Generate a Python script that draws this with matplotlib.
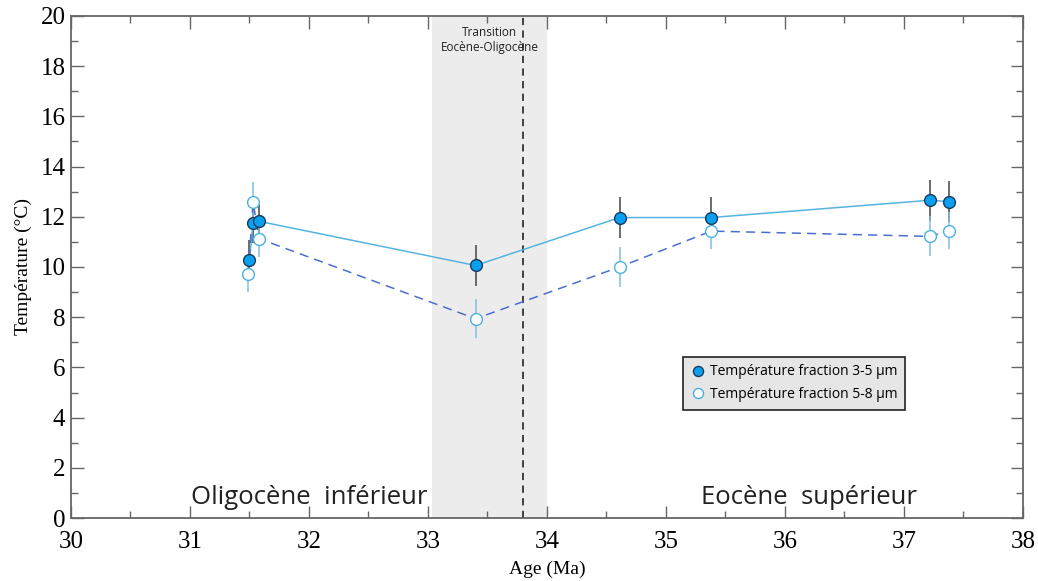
import matplotlib.pyplot as plt
from matplotlib.ticker import MultipleLocator

# Fraction 3-5 µm (filled markers)
age_35 = [31.50, 31.53, 31.58, 33.40, 34.61, 35.38, 37.22, 37.38]
temp_35 = [10.28, 11.75, 11.82, 10.06, 11.97, 11.97, 12.66, 12.60]
err_35 = [0.80, 0.80, 0.80, 0.82, 0.82, 0.82, 0.82, 0.82]

# Fraction 5-8 µm (open markers)
age_58 = [31.49, 31.53, 31.58, 33.40, 34.61, 35.38, 37.22, 37.38]
temp_58 = [9.74, 12.60, 11.13, 7.94, 10.00, 11.43, 11.22, 11.45]
err_58 = [0.75, 0.80, 0.75, 0.78, 0.78, 0.72, 0.80, 0.75]

transition_span = (33.03, 34.0)
boundary_age = 33.8

sans = ["Open Sans", "DejaVu Sans"]
plt.rcParams["font.family"] = ["Liberation Serif", "DejaVu Serif"]

fig = plt.figure(figsize=(10.38, 5.81), dpi=100)
ax = fig.add_axes([0.0684, 0.1084, 0.9171, 0.8641])

ax.axvspan(*transition_span, color="#ececec", zorder=0, lw=0)
ax.axvline(boundary_age, color="#333333", ls=(0, (4, 3)), lw=1.3, zorder=1)

ax.errorbar(age_35, temp_35, yerr=err_35, fmt="none", ecolor="#444444",
            elinewidth=1.1, zorder=2)
ax.errorbar(age_58, temp_58, yerr=err_58, fmt="none", ecolor="#7fc0e0",
            elinewidth=1.1, zorder=2)

ax.plot(age_35, temp_35, color="#55b4e0", lw=1.1, zorder=3)
ax.plot(age_58, temp_58, color="#4a6fd0", lw=1.1, ls=(0, (6, 4)), zorder=3)

ax.plot(age_35, temp_35, ls="none", marker="o", ms=8.5, mfc="#0aa0f0",
        mec="#1a3a5a", mew=1.0, zorder=4, label="Température fraction 3-5 µm")
ax.plot(age_58, temp_58, ls="none", marker="o", ms=8.5, mfc="white",
        mec="#4ab0e0", mew=1.0, zorder=4, label="Température fraction 5-8 µm")

ax.set_xlim(30, 38)
ax.set_ylim(0, 20)
ax.xaxis.set_major_locator(MultipleLocator(1))
ax.xaxis.set_minor_locator(MultipleLocator(0.5))
ax.yaxis.set_major_locator(MultipleLocator(2))
ax.yaxis.set_minor_locator(MultipleLocator(1))
ax.tick_params(which="both", direction="in", top=True, right=True,
               color="#666666", width=1.0)
ax.tick_params(which="major", length=9, labelsize=18)
ax.tick_params(which="minor", length=5)
ax.tick_params(axis="x", pad=9)
ax.tick_params(axis="y", pad=4)
for sp in ax.spines.values():
    sp.set_color("#666666")
    sp.set_linewidth(1.3)

ax.set_xlabel("Age (Ma)", fontsize=14, labelpad=6)
ax.set_ylabel("Température (°C)", fontsize=14, labelpad=6)

ax.text(33.52, 19.6, "Transition\nEocène-Oligocène", family=sans, fontsize=8.5,
        ha="center", va="top", color="#222222", linespacing=1.2)
ax.text(32.0, 0.3, "Oligocène  inférieur", family=sans, fontsize=18.5,
        ha="center", va="bottom", color="#222222")
ax.text(36.2, 0.3, "Eocène  supérieur", family=sans, fontsize=18.5,
        ha="center", va="bottom", color="#222222")

leg = ax.legend(loc="upper left", bbox_to_anchor=(0.636, 0.335), prop={"family": sans, "size": 10},
                frameon=True, fancybox=False, handletextpad=0.35, handlelength=1.0,
                borderpad=0.55, markerscale=0.85, labelspacing=0.55)
leg.get_frame().set_facecolor("#e6e6e6")
leg.get_frame().set_edgecolor("#222222")
leg.get_frame().set_linewidth(1.2)
leg.get_frame().set_alpha(1)

fig.savefig("out.png", dpi=100)
